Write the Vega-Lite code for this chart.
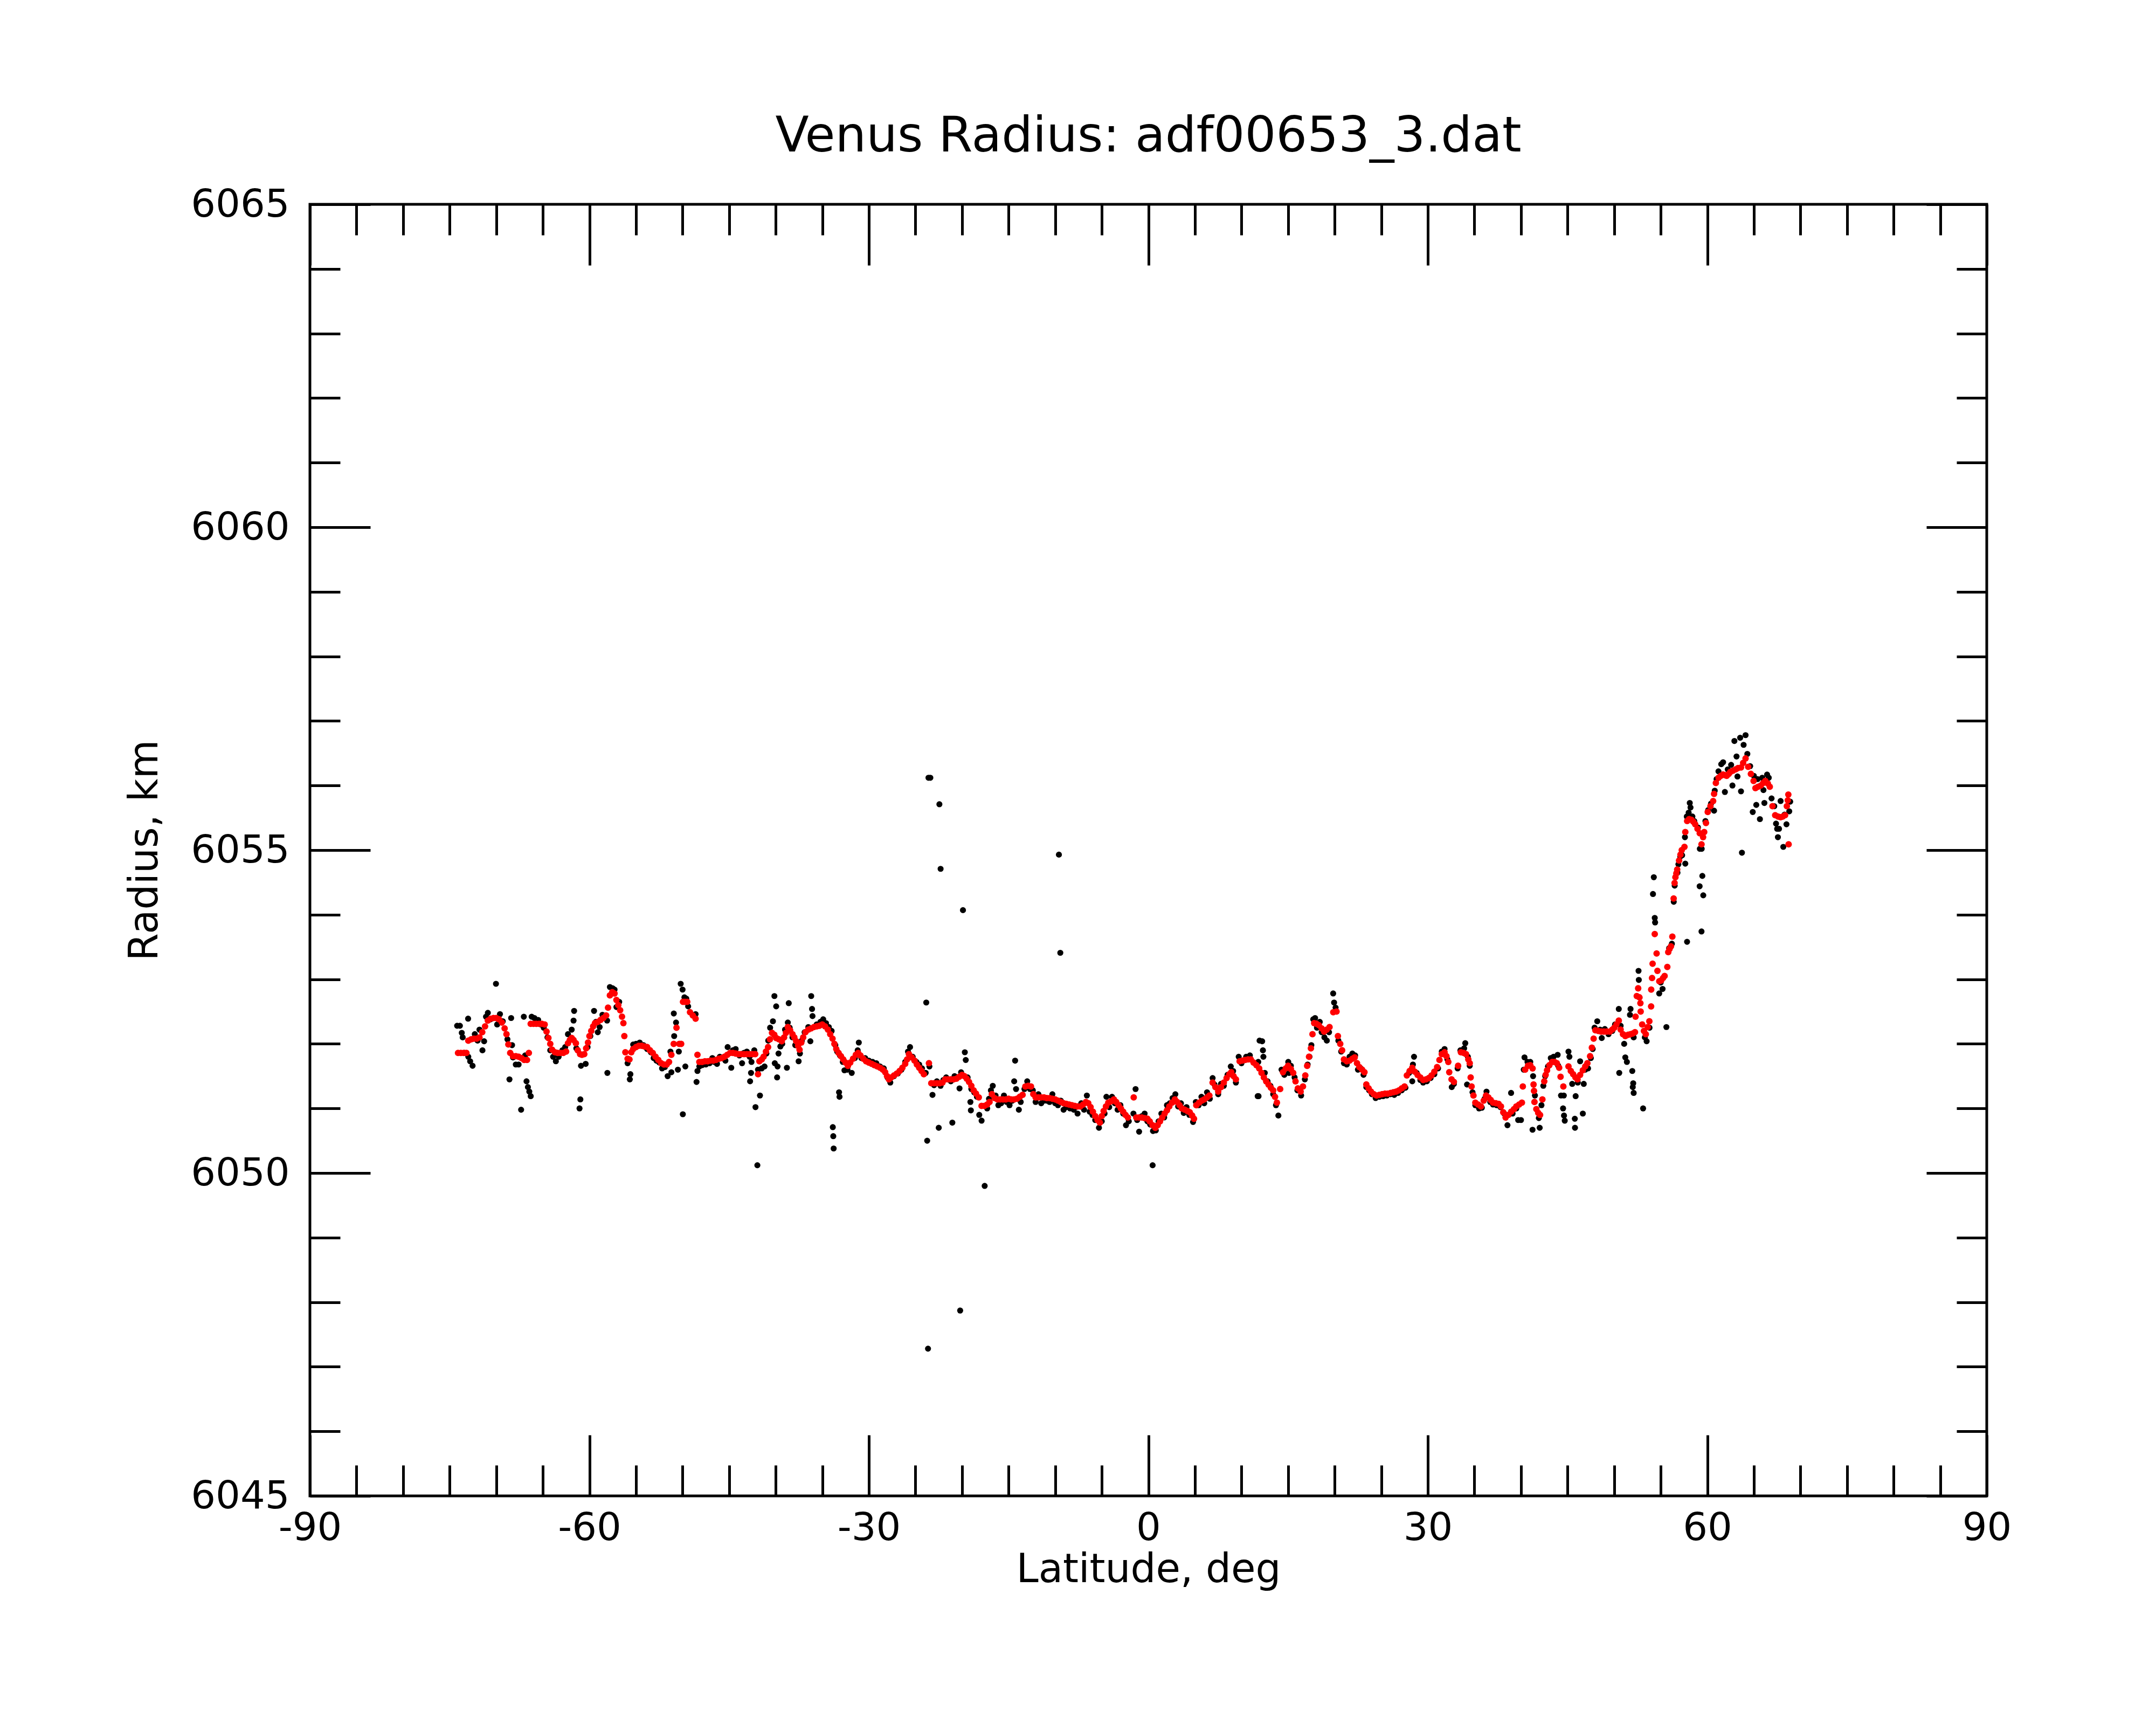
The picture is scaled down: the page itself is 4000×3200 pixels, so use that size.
{
  "$schema": "https://vega.github.io/schema/vega-lite/v6.json",
  "autosize": "none",
  "padding": {"left": 575, "top": 379, "right": 314, "bottom": 425},
  "width": 3111,
  "height": 2396,
  "background": "white",
  "title": {
    "text": "Venus Radius: adf00653_3.dat",
    "font": "DejaVu Sans",
    "fontSize": 91,
    "fontWeight": "normal",
    "color": "black",
    "baseline": "bottom",
    "anchor": "middle",
    "frame": "group",
    "offset": -48
  },
  "datasets": {
    "raw": [
      {"lat":-74.2,"r":6052.28},{"lat":-73.9,"r":6052.28},{"lat":-73.7,"r":6052.17},{"lat":-73.6,"r":6052.10},{"lat":-73.02,"r":6052.39},{"lat":-73.4,"r":6051.86},{"lat":-73.0,"r":6051.80},{"lat":-72.8,"r":6051.73},{"lat":-72.54,"r":6051.66},{"lat":-72.3,"r":6052.15},{"lat":-72.0,"r":6052.05},{"lat":-71.8,"r":6052.22},{"lat":-71.48,"r":6051.90},{"lat":-71.3,"r":6052.04},{"lat":-71.1,"r":6052.42},{"lat":-70.9,"r":6052.48},{"lat":-70.6,"r":6052.38},{"lat":-70.03,"r":6052.93},{"lat":-69.9,"r":6052.30},{"lat":-69.6,"r":6052.46},{"lat":-69.3,"r":6052.35},{"lat":-68.8,"r":6052.07},{"lat":-68.58,"r":6051.45},{"lat":-68.4,"r":6052.40},{"lat":-68.3,"r":6051.98},{"lat":-68.2,"r":6051.79},{"lat":-67.9,"r":6051.68},{"lat":-67.6,"r":6051.68},{"lat":-67.33,"r":6050.98},{"lat":-67.04,"r":6052.42},{"lat":-66.9,"r":6051.82},{"lat":-66.75,"r":6051.42},{"lat":-66.6,"r":6051.33},{"lat":-66.45,"r":6051.26},{"lat":-66.3,"r":6051.19},{"lat":-66.2,"r":6052.42},{"lat":-65.9,"r":6052.40},{"lat":-65.5,"r":6052.37},{"lat":-65.2,"r":6052.30},{"lat":-64.9,"r":6052.25},{"lat":-64.5,"r":6052.10},{"lat":-64.2,"r":6051.90},{"lat":-63.9,"r":6051.80},{"lat":-63.6,"r":6051.73},{"lat":-63.3,"r":6051.80},{"lat":-62.9,"r":6051.90},{"lat":-62.6,"r":6051.95},{"lat":-62.3,"r":6052.15},{"lat":-61.9,"r":6052.22},{"lat":-61.64,"r":6052.51},{"lat":-61.7,"r":6052.36},{"lat":-61.4,"r":6051.93},{"lat":-61.06,"r":6051.00},{"lat":-60.97,"r":6051.14},{"lat":-60.9,"r":6051.66},{"lat":-60.6,"r":6051.84},{"lat":-60.4,"r":6051.69},{"lat":-60.2,"r":6051.95},{"lat":-59.9,"r":6052.12},{"lat":-59.5,"r":6052.51},{"lat":-59.3,"r":6052.34},{"lat":-59.1,"r":6052.18},{"lat":-58.9,"r":6052.26},{"lat":-58.6,"r":6052.45},{"lat":-58.07,"r":6051.55},{"lat":-58.1,"r":6052.36},{"lat":-57.8,"r":6052.88},{"lat":-57.5,"r":6052.86},{"lat":-57.3,"r":6052.84},{"lat":-57.1,"r":6052.57},{"lat":-56.8,"r":6052.65},{"lat":-55.66,"r":6051.45},{"lat":-55.6,"r":6051.53},{"lat":-55.9,"r":6051.70},{"lat":-55.3,"r":6051.99},{"lat":-55.0,"r":6052.00},{"lat":-54.6,"r":6052.02},{"lat":-54.2,"r":6051.98},{"lat":-53.8,"r":6051.92},{"lat":-53.4,"r":6051.87},{"lat":-53.1,"r":6051.78},{"lat":-52.8,"r":6051.74},{"lat":-52.5,"r":6051.71},{"lat":-52.2,"r":6051.62},{"lat":-51.9,"r":6051.64},{"lat":-51.6,"r":6051.50},{"lat":-51.3,"r":6051.88},{"lat":-51.2,"r":6051.56},{"lat":-50.94,"r":6052.47},{"lat":-50.9,"r":6052.12},{"lat":-50.7,"r":6052.33},{"lat":-50.5,"r":6051.60},{"lat":-50.4,"r":6051.88},{"lat":-50.2,"r":6052.93},{"lat":-50.0,"r":6052.84},{"lat":-49.97,"r":6050.91},{"lat":-49.8,"r":6052.72},{"lat":-49.6,"r":6052.70},{"lat":-49.4,"r":6052.58},{"lat":-49.7,"r":6051.65},{"lat":-48.5,"r":6051.41},{"lat":-48.4,"r":6051.58},{"lat":-48.6,"r":6052.46},{"lat":-48.2,"r":6051.65},{"lat":-47.9,"r":6051.67},{"lat":-47.5,"r":6051.68},{"lat":-47.1,"r":6051.70},{"lat":-46.8,"r":6051.78},
      {"lat":-46.6,"r":6051.72},{"lat":-46.3,"r":6051.69},{"lat":-46.0,"r":6051.80},{"lat":-45.7,"r":6051.78},{"lat":-45.4,"r":6051.74},{"lat":-45.16,"r":6051.95},{"lat":-44.77,"r":6051.63},{"lat":-44.6,"r":6051.90},{"lat":-44.3,"r":6051.92},{"lat":-43.9,"r":6051.82},{"lat":-43.61,"r":6051.70},{"lat":-43.4,"r":6051.86},{"lat":-43.1,"r":6051.88},{"lat":-42.8,"r":6051.80},{"lat":-42.6,"r":6051.72},{"lat":-42.75,"r":6051.42},{"lat":-42.65,"r":6051.55},{"lat":-42.3,"r":6051.90},{"lat":-42.17,"r":6051.02},{"lat":-41.97,"r":6050.12},{"lat":-41.69,"r":6051.20},{"lat":-41.9,"r":6051.60},{"lat":-41.5,"r":6051.62},{"lat":-41.2,"r":6051.65},{"lat":-41.0,"r":6051.85},{"lat":-40.8,"r":6052.05},{"lat":-40.6,"r":6052.25},{"lat":-40.14,"r":6052.74},{"lat":-39.95,"r":6052.58},{"lat":-40.3,"r":6052.35},{"lat":-40.1,"r":6051.70},{"lat":-39.85,"r":6051.48},{"lat":-39.8,"r":6051.65},{"lat":-39.7,"r":6051.85},{"lat":-39.5,"r":6051.96},{"lat":-39.3,"r":6052.00},{"lat":-39.0,"r":6052.22},{"lat":-38.8,"r":6051.63},{"lat":-38.6,"r":6052.63},{"lat":-38.7,"r":6052.33},{"lat":-38.5,"r":6052.25},{"lat":-38.2,"r":6052.10},{"lat":-37.9,"r":6051.98},{"lat":-37.54,"r":6051.73},{"lat":-37.4,"r":6051.85},{"lat":-37.2,"r":6052.05},{"lat":-36.9,"r":6052.18},{"lat":-36.5,"r":6052.26},{"lat":-36.28,"r":6052.04},{"lat":-36.19,"r":6052.74},{"lat":-36.1,"r":6052.54},{"lat":-36.05,"r":6052.43},{"lat":-35.6,"r":6052.30},{"lat":-35.2,"r":6052.34},{"lat":-34.9,"r":6052.38},{"lat":-34.6,"r":6052.32},{"lat":-34.3,"r":6052.26},{"lat":-34.0,"r":6052.20},{"lat":-33.87,"r":6050.71},{"lat":-33.82,"r":6050.57},{"lat":-33.78,"r":6050.38},{"lat":-33.6,"r":6051.98},{"lat":-33.4,"r":6051.88},{"lat":-33.2,"r":6051.25},{"lat":-33.15,"r":6051.18},{"lat":-33.1,"r":6051.82},{"lat":-32.8,"r":6051.72},{"lat":-32.62,"r":6051.59},{"lat":-32.3,"r":6051.60},{"lat":-31.84,"r":6051.55},{"lat":-31.5,"r":6051.78},{"lat":-31.08,"r":6052.02},{"lat":-31.2,"r":6051.90},{"lat":-30.8,"r":6051.78},{"lat":-30.4,"r":6051.78},{"lat":-30.0,"r":6051.74},{"lat":-29.6,"r":6051.72},{"lat":-29.2,"r":6051.70},{"lat":-28.8,"r":6051.65},{"lat":-28.4,"r":6051.62},{"lat":-28.0,"r":6051.48},{"lat":-27.7,"r":6051.40},{"lat":-27.3,"r":6051.50},{"lat":-26.9,"r":6051.54},{"lat":-26.5,"r":6051.60},{"lat":-26.1,"r":6051.72},{"lat":-25.8,"r":6051.88},{"lat":-25.58,"r":6051.95},{"lat":-25.3,"r":6051.80},{"lat":-24.9,"r":6051.72},{"lat":-24.6,"r":6051.68},{"lat":-24.3,"r":6051.62},{"lat":-23.84,"r":6052.64},{"lat":-23.9,"r":6051.55},{"lat":-23.74,"r":6050.50},{"lat":-23.6,"r":6056.12},{"lat":-23.4,"r":6056.12},{"lat":-23.65,"r":6047.28},{"lat":-22.43,"r":6055.71},{"lat":-22.3,"r":6054.71},{"lat":-19.9,"r":6054.07},{"lat":-20.2,"r":6047.87},{"lat":-23.5,"r":6051.65},{"lat":-23.17,"r":6051.21},{"lat":-23.0,"r":6051.36},{"lat":-22.7,"r":6051.42},{"lat":-22.5,"r":6050.70},{"lat":-22.3,"r":6051.35},{"lat":-22.0,"r":6051.44},{"lat":-21.7,"r":6051.48},{"lat":-21.04,"r":6050.78},{"lat":-21.2,"r":6051.42},{"lat":-20.8,"r":6051.50},{"lat":-20.5,"r":6051.48},{"lat":-20.27,"r":6051.31},{"lat":-20.1,"r":6051.56},{"lat":-19.7,"r":6051.87},{"lat":-19.6,"r":6051.75},{"lat":-19.4,"r":6051.48},{"lat":-19.1,"r":6051.10},{"lat":-19.05,"r":6050.97},{"lat":-19.0,"r":6051.30},{"lat":-18.7,"r":6051.25},{"lat":-18.4,"r":6051.18},{"lat":-18.15,"r":6050.90},{"lat":-17.9,"r":6050.81},{"lat":-17.57,"r":6049.80},{"lat":-17.3,"r":6051.00},
      {"lat":-9.6,"r":6054.93},{"lat":-9.45,"r":6053.41},
      {"lat":-17.1,"r":6051.15},{"lat":-16.9,"r":6051.28},{"lat":-16.7,"r":6051.35},{"lat":-16.4,"r":6051.20},{"lat":-16.1,"r":6051.05},{"lat":-15.8,"r":6051.08},{"lat":-15.5,"r":6051.20},{"lat":-15.2,"r":6051.10},{"lat":-14.9,"r":6051.05},{"lat":-14.6,"r":6051.12},{"lat":-14.4,"r":6051.42},{"lat":-14.3,"r":6051.74},{"lat":-14.2,"r":6051.30},{"lat":-13.9,"r":6050.98},{"lat":-13.7,"r":6051.10},{"lat":-13.3,"r":6051.30},{"lat":-13.0,"r":6051.42},{"lat":-12.7,"r":6051.30},{"lat":-12.4,"r":6051.28},{"lat":-12.1,"r":6051.10},{"lat":-11.8,"r":6051.22},{"lat":-11.5,"r":6051.08},{"lat":-11.2,"r":6051.12},{"lat":-10.9,"r":6051.12},{"lat":-10.6,"r":6051.10},{"lat":-10.3,"r":6051.22},{"lat":-10.0,"r":6051.08},{"lat":-9.7,"r":6051.05},{"lat":-9.4,"r":6051.12},{"lat":-9.1,"r":6050.98},{"lat":-8.8,"r":6051.02},{"lat":-8.4,"r":6051.00},{"lat":-8.0,"r":6050.98},{"lat":-7.6,"r":6050.92},{"lat":-7.2,"r":6051.08},{"lat":-6.9,"r":6050.98},{"lat":-6.6,"r":6051.20},{"lat":-6.3,"r":6050.95},{"lat":-6.0,"r":6050.90},{"lat":-5.7,"r":6050.82},{"lat":-5.3,"r":6050.70},{"lat":-5.0,"r":6050.80},{"lat":-4.7,"r":6050.92},{"lat":-4.5,"r":6051.18},{"lat":-4.2,"r":6051.02},{"lat":-3.9,"r":6051.18},{"lat":-3.6,"r":6051.08},{"lat":-3.3,"r":6050.98},{"lat":-3.0,"r":6051.05},{"lat":-2.7,"r":6050.92},{"lat":-2.4,"r":6050.74},{"lat":-2.1,"r":6050.80},{"lat":-1.37,"r":6051.30},{"lat":-1.6,"r":6050.92},{"lat":-1.2,"r":6050.82},{"lat":-0.99,"r":6050.64},{"lat":-0.7,"r":6050.88},{"lat":-0.4,"r":6050.92},{"lat":-0.1,"r":6050.80},{"lat":0.2,"r":6050.75},{"lat":0.46,"r":6050.12},{"lat":0.5,"r":6050.65},{"lat":0.8,"r":6050.66},{"lat":1.1,"r":6050.80},{"lat":1.4,"r":6050.92},{"lat":1.7,"r":6050.86},{"lat":2.0,"r":6051.05},{"lat":2.3,"r":6051.08},{"lat":2.6,"r":6051.16},{"lat":2.9,"r":6051.22},{"lat":3.2,"r":6051.03},{"lat":3.5,"r":6051.08},{"lat":3.8,"r":6050.93},{"lat":4.1,"r":6051.02},{"lat":4.4,"r":6050.90},{"lat":4.8,"r":6050.79},{"lat":5.1,"r":6051.10},{"lat":5.4,"r":6051.05},{"lat":5.7,"r":6051.18},{"lat":6.0,"r":6051.08},{"lat":6.3,"r":6051.25},{"lat":6.6,"r":6051.15},{"lat":6.9,"r":6051.47},{"lat":7.1,"r":6051.37},{"lat":7.5,"r":6051.22},{"lat":7.8,"r":6051.38},{"lat":8.1,"r":6051.35},{"lat":8.5,"r":6051.52},{"lat":8.85,"r":6051.65},{"lat":9.1,"r":6051.58},{"lat":9.4,"r":6051.40},{"lat":9.7,"r":6051.80},{"lat":10.0,"r":6051.70},{"lat":10.5,"r":6051.80},{"lat":10.9,"r":6051.82},{"lat":11.74,"r":6051.19},{"lat":11.94,"r":6052.05},{"lat":11.8,"r":6051.72},
      {"lat":12.22,"r":6052.04},{"lat":12.3,"r":6051.90},{"lat":12.35,"r":6051.80},{"lat":11.83,"r":6051.19},{"lat":12.5,"r":6051.55},{"lat":12.8,"r":6051.42},{"lat":13.1,"r":6051.35},{"lat":13.4,"r":6051.22},{"lat":13.7,"r":6051.05},{"lat":13.96,"r":6050.89},{"lat":14.3,"r":6051.60},{"lat":14.6,"r":6051.52},{"lat":15.02,"r":6051.72},{"lat":15.1,"r":6051.55},{"lat":15.3,"r":6051.66},{"lat":15.7,"r":6051.48},{"lat":16.0,"r":6051.28},{"lat":16.4,"r":6051.20},{"lat":16.8,"r":6051.45},{"lat":17.1,"r":6051.68},{"lat":17.3,"r":6051.80},{"lat":17.5,"r":6051.98},{"lat":17.7,"r":6052.38},{"lat":17.9,"r":6052.40},{"lat":18.1,"r":6052.25},{"lat":18.4,"r":6052.34},{"lat":18.6,"r":6052.18},{"lat":18.9,"r":6052.10},{"lat":19.16,"r":6052.05},{"lat":19.4,"r":6052.18},{"lat":19.84,"r":6052.78},{"lat":19.94,"r":6052.64},{"lat":20.1,"r":6052.56},{"lat":20.4,"r":6052.05},{"lat":20.7,"r":6051.88},{"lat":21.0,"r":6051.70},{"lat":21.3,"r":6051.68},{"lat":21.6,"r":6051.80},{"lat":21.9,"r":6051.85},{"lat":22.2,"r":6051.82},{"lat":22.5,"r":6051.60},{"lat":22.8,"r":6051.62},{"lat":23.1,"r":6051.52},{"lat":23.4,"r":6051.33},{"lat":23.7,"r":6051.28},{"lat":24.0,"r":6051.22},{"lat":24.4,"r":6051.16},{"lat":24.8,"r":6051.18},{"lat":25.2,"r":6051.19},{"lat":25.6,"r":6051.20},{"lat":26.0,"r":6051.22},{"lat":26.4,"r":6051.21},{"lat":26.8,"r":6051.24},{"lat":27.2,"r":6051.28},{"lat":27.6,"r":6051.32},{"lat":28.0,"r":6051.55},{"lat":28.33,"r":6051.42},{"lat":28.52,"r":6051.80},{"lat":28.4,"r":6051.68},{"lat":28.8,"r":6051.55},{"lat":29.2,"r":6051.44},{"lat":29.5,"r":6051.40},{"lat":29.9,"r":6051.42},{"lat":30.3,"r":6051.47},{"lat":30.7,"r":6051.53},{"lat":31.1,"r":6051.62},{"lat":31.5,"r":6051.88},{"lat":31.8,"r":6051.92},{"lat":32.1,"r":6051.76},{"lat":32.57,"r":6051.33},{"lat":32.8,"r":6051.38},{"lat":33.2,"r":6051.62},{"lat":33.5,"r":6051.90},{"lat":34.02,"r":6052.01},{"lat":33.9,"r":6051.93},{"lat":34.21,"r":6051.37},{"lat":34.3,"r":6051.80},{"lat":34.5,"r":6051.66},{"lat":34.8,"r":6051.25},{"lat":35.1,"r":6051.05},{"lat":35.5,"r":6051.00},{"lat":35.8,"r":6051.01},{"lat":36.1,"r":6051.15},{"lat":36.3,"r":6051.26},{"lat":36.7,"r":6051.10},{"lat":37.0,"r":6051.06},{"lat":37.4,"r":6051.05},{"lat":37.8,"r":6051.02},{"lat":38.2,"r":6050.92},{"lat":38.55,"r":6050.74},{"lat":38.94,"r":6051.24},{"lat":39.1,"r":6050.92},{"lat":39.5,"r":6051.00},{"lat":39.7,"r":6050.82},{"lat":40.0,"r":6050.82},{"lat":40.38,"r":6051.79},{"lat":40.3,"r":6051.60},{"lat":40.7,"r":6051.72},{"lat":41.0,"r":6051.72},
      {"lat":41.24,"r":6050.67},{"lat":41.3,"r":6051.50},{"lat":41.5,"r":6051.20},{"lat":41.92,"r":6050.85},{"lat":42.01,"r":6050.70},{"lat":42.2,"r":6051.05},{"lat":42.4,"r":6051.35},{"lat":42.6,"r":6051.50},{"lat":42.9,"r":6051.65},{"lat":43.2,"r":6051.78},{"lat":43.5,"r":6051.80},{"lat":43.94,"r":6051.83},{"lat":44.0,"r":6051.66},{"lat":44.3,"r":6051.20},{"lat":44.52,"r":6051.00},{"lat":44.62,"r":6050.89},{"lat":44.7,"r":6050.81},{"lat":44.6,"r":6051.20},{"lat":45.1,"r":6051.88},{"lat":45.2,"r":6051.80},{"lat":45.5,"r":6051.38},{"lat":45.78,"r":6050.84},{"lat":45.8,"r":6050.70},{"lat":45.87,"r":6051.19},{"lat":46.1,"r":6051.40},{"lat":46.35,"r":6051.73},{"lat":46.64,"r":6050.92},{"lat":46.74,"r":6051.38},{"lat":46.9,"r":6051.60},{"lat":47.2,"r":6051.62},{"lat":47.5,"r":6051.78},{"lat":47.7,"r":6051.92},{"lat":47.9,"r":6052.25},{"lat":48.19,"r":6052.35},{"lat":48.67,"r":6052.09},{"lat":48.5,"r":6052.22},{"lat":49.0,"r":6052.23},{"lat":49.4,"r":6052.15},{"lat":49.8,"r":6052.20},{"lat":50.1,"r":6052.30},{"lat":50.5,"r":6052.54},{"lat":50.55,"r":6051.55},{"lat":50.7,"r":6052.28},{"lat":51.08,"r":6052.00},{"lat":51.2,"r":6051.79},{"lat":51.37,"r":6051.72},{"lat":51.76,"r":6052.54},{"lat":51.7,"r":6052.45},{"lat":51.95,"r":6051.58},{"lat":52.05,"r":6051.39},{"lat":52.0,"r":6051.33},{"lat":52.1,"r":6051.24},{"lat":52.1,"r":6052.10},{"lat":52.62,"r":6053.13},{"lat":52.65,"r":6052.99},{"lat":53.11,"r":6051.00},{"lat":53.49,"r":6052.04},{"lat":53.3,"r":6052.10},{"lat":53.8,"r":6052.25},{"lat":54.17,"r":6054.32},{"lat":54.26,"r":6054.58},{"lat":54.36,"r":6053.95},{"lat":54.4,"r":6053.88},{"lat":54.84,"r":6052.78},{"lat":55.2,"r":6052.85},{"lat":55.0,"r":6052.95},{"lat":55.61,"r":6052.26},{"lat":55.9,"r":6053.48},{"lat":56.2,"r":6053.55},{"lat":56.4,"r":6054.20},{"lat":56.5,"r":6054.45},{"lat":56.8,"r":6054.65},{"lat":56.9,"r":6054.78},{"lat":57.1,"r":6054.90},{"lat":57.3,"r":6054.92},{"lat":57.64,"r":6054.79},{"lat":57.83,"r":6053.58},{"lat":57.6,"r":6055.20},{"lat":57.8,"r":6055.52},{"lat":58.0,"r":6055.58},{"lat":58.12,"r":6055.73},{"lat":58.2,"r":6055.66},{"lat":58.4,"r":6055.52},{"lat":58.6,"r":6055.45},{"lat":59.0,"r":6055.35},{"lat":59.2,"r":6055.02},{"lat":59.4,"r":6055.02},{"lat":59.18,"r":6054.44},{"lat":59.47,"r":6054.60},{"lat":59.57,"r":6054.30},{"lat":59.38,"r":6053.74},{"lat":59.8,"r":6055.45},{"lat":60.1,"r":6055.62},{"lat":60.4,"r":6055.72},{"lat":60.73,"r":6055.61},{"lat":60.8,"r":6055.92},{"lat":61.0,"r":6056.10},{"lat":61.2,"r":6056.22},{"lat":61.5,"r":6056.33},{"lat":61.7,"r":6056.36},{"lat":61.89,"r":6055.90},{"lat":62.2,"r":6056.25},{"lat":62.56,"r":6056.32},{"lat":62.7,"r":6056.00},{"lat":62.91,"r":6056.69},{"lat":63.14,"r":6056.45},{"lat":63.24,"r":6056.14},{"lat":63.53,"r":6056.74},{"lat":63.62,"r":6055.91},{"lat":63.72,"r":6054.96},{"lat":63.9,"r":6056.63},{"lat":64.11,"r":6056.78},{"lat":64.3,"r":6056.49},{"lat":64.6,"r":6056.30},{"lat":64.88,"r":6055.59},{"lat":65.0,"r":6056.15},{"lat":65.26,"r":6055.70},{"lat":65.4,"r":6056.10},{"lat":65.65,"r":6055.48},{"lat":65.9,"r":6056.12},{"lat":66.03,"r":6055.93},{"lat":66.13,"r":6055.73},{"lat":66.42,"r":6056.17},{"lat":66.6,"r":6056.12},{"lat":66.9,"r":6055.80},{"lat":67.19,"r":6055.68},{"lat":67.38,"r":6055.41},{"lat":67.5,"r":6055.33},{"lat":67.58,"r":6055.20},{"lat":67.7,"r":6055.33},{"lat":67.87,"r":6055.76},{"lat":68.16,"r":6055.05},{"lat":68.3,"r":6055.55},{"lat":68.5,"r":6055.40},{"lat":68.8,"r":6055.60},{"lat":68.9,"r":6055.75}
    ],
    "smooth": [
      {"lat":-74.1,"r":6051.86},{"lat":-73.8,"r":6051.86},{"lat":-73.5,"r":6051.86},{"lat":-73.2,"r":6051.86},{"lat":-73.0,"r":6052.05},{"lat":-72.7,"r":6052.07},{"lat":-72.4,"r":6052.08},{"lat":-72.1,"r":6052.08},{"lat":-71.8,"r":6052.10},{"lat":-71.5,"r":6052.18},{"lat":-71.2,"r":6052.27},{"lat":-70.9,"r":6052.36},{"lat":-70.6,"r":6052.39},{"lat":-70.3,"r":6052.40},{"lat":-70.0,"r":6052.40},{"lat":-69.7,"r":6052.38},{"lat":-69.4,"r":6052.33},{"lat":-69.1,"r":6052.24},{"lat":-68.9,"r":6052.15},{"lat":-68.7,"r":6051.99},{"lat":-68.5,"r":6051.86},{"lat":-68.2,"r":6051.81},{"lat":-67.9,"r":6051.81},{"lat":-67.6,"r":6051.80},{"lat":-67.3,"r":6051.78},{"lat":-67.0,"r":6051.75},{"lat":-66.7,"r":6051.75},{"lat":-66.5,"r":6051.86},
      {"lat":-66.3,"r":6052.31},{"lat":-66.0,"r":6052.31},{"lat":-65.7,"r":6052.31},{"lat":-65.4,"r":6052.31},{"lat":-65.1,"r":6052.31},{"lat":-64.8,"r":6052.30},{"lat":-64.6,"r":6052.19},{"lat":-64.4,"r":6052.09},{"lat":-64.2,"r":6052.00},{"lat":-64.0,"r":6051.91},{"lat":-63.7,"r":6051.87},{"lat":-63.4,"r":6051.86},{"lat":-63.1,"r":6051.86},{"lat":-62.8,"r":6051.86},{"lat":-62.5,"r":6051.88},{"lat":-62.3,"r":6052.01},{"lat":-62.1,"r":6052.06},{"lat":-61.9,"r":6052.09},{"lat":-61.7,"r":6052.06},{"lat":-61.45,"r":6052.01},{"lat":-61.25,"r":6051.90},{"lat":-61.0,"r":6051.84},{"lat":-60.8,"r":6051.83},{"lat":-60.55,"r":6051.84},{"lat":-60.35,"r":6051.93},{"lat":-60.15,"r":6052.02},{"lat":-60.0,"r":6052.12},{"lat":-59.8,"r":6052.20},{"lat":-59.6,"r":6052.27},{"lat":-59.4,"r":6052.32},{"lat":-59.1,"r":6052.34},{"lat":-58.8,"r":6052.37},{"lat":-58.5,"r":6052.40},{"lat":-58.2,"r":6052.44},{"lat":-58.0,"r":6052.56},{"lat":-57.8,"r":6052.75},{"lat":-57.55,"r":6052.80},{"lat":-57.3,"r":6052.78},{"lat":-57.1,"r":6052.68},{"lat":-56.9,"r":6052.60},{"lat":-56.7,"r":6052.52},{"lat":-56.5,"r":6052.42},{"lat":-56.35,"r":6052.32},{"lat":-56.25,"r":6052.12},{"lat":-56.14,"r":6051.87},{"lat":-55.9,"r":6051.77},{"lat":-55.7,"r":6051.76},{"lat":-55.5,"r":6051.87},{"lat":-55.3,"r":6051.92},{"lat":-55.0,"r":6051.95},{"lat":-54.7,"r":6051.97},{"lat":-54.4,"r":6051.97},{"lat":-54.1,"r":6051.96},{"lat":-53.8,"r":6051.95},{"lat":-53.5,"r":6051.90},{"lat":-53.2,"r":6051.86},{"lat":-52.9,"r":6051.80},{"lat":-52.6,"r":6051.75},{"lat":-52.3,"r":6051.70},{"lat":-52.0,"r":6051.68},{"lat":-51.7,"r":6051.68},{"lat":-51.45,"r":6051.72},{"lat":-51.2,"r":6051.83},{"lat":-50.95,"r":6052.00},{"lat":-50.65,"r":6052.25},{"lat":-50.35,"r":6052.00},{"lat":-50.15,"r":6052.00},{"lat":-49.95,"r":6052.65},{"lat":-49.75,"r":6052.65},{"lat":-49.5,"r":6052.65},{"lat":-49.2,"r":6052.49},{"lat":-48.9,"r":6052.44},{"lat":-48.6,"r":6052.39},{"lat":-48.4,"r":6051.83},{"lat":-48.2,"r":6051.72},{"lat":-47.9,"r":6051.72},{"lat":-47.6,"r":6051.73},{"lat":-47.3,"r":6051.73},{"lat":-47.0,"r":6051.74},{"lat":-46.7,"r":6051.74},{"lat":-46.4,"r":6051.75},{"lat":-46.1,"r":6051.77},{"lat":-45.8,"r":6051.78},{"lat":-45.5,"r":6051.80},{"lat":-45.2,"r":6051.83},{"lat":-44.9,"r":6051.86},{"lat":-44.6,"r":6051.86},{"lat":-44.3,"r":6051.85},{"lat":-44.0,"r":6051.84},{"lat":-43.7,"r":6051.84},{"lat":-43.4,"r":6051.84},{"lat":-43.1,"r":6051.84},{"lat":-42.8,"r":6051.84},{"lat":-42.5,"r":6051.84},{"lat":-42.2,"r":6051.84},{"lat":-41.9,"r":6051.53},{"lat":-41.75,"r":6051.73},{"lat":-41.5,"r":6051.76},{"lat":-41.3,"r":6051.80},{"lat":-41.05,"r":6051.88},{"lat":-40.82,"r":6051.95},{"lat":-40.62,"r":6052.07},{"lat":-40.4,"r":6052.17},{"lat":-40.15,"r":6052.14},{"lat":-39.95,"r":6052.09},{"lat":-39.65,"r":6052.07},{"lat":-39.35,"r":6052.04},{"lat":-39.1,"r":6052.10},{"lat":-38.9,"r":6052.17},{"lat":-38.7,"r":6052.26},{"lat":-38.45,"r":6052.21},{"lat":-38.2,"r":6052.15},{"lat":-38.0,"r":6052.10},{"lat":-37.8,"r":6052.04},{"lat":-37.6,"r":6051.97},{"lat":-37.44,"r":6051.91},{"lat":-37.25,"r":6052.02},{"lat":-37.05,"r":6052.10},{"lat":-36.8,"r":6052.18},{"lat":-36.5,"r":6052.22},{"lat":-36.2,"r":6052.24},{"lat":-35.9,"r":6052.26},{"lat":-35.6,"r":6052.27},{"lat":-35.3,"r":6052.28},{"lat":-35.0,"r":6052.30},{"lat":-34.7,"r":6052.27},{"lat":-34.4,"r":6052.22},{"lat":-34.15,"r":6052.15},{"lat":-33.9,"r":6052.08},{"lat":-33.7,"r":6052.00},{"lat":-33.5,"r":6051.92},{"lat":-33.25,"r":6051.86},{"lat":-33.0,"r":6051.81},{"lat":-32.75,"r":6051.76},{"lat":-32.5,"r":6051.71},{"lat":-32.25,"r":6051.66},{"lat":-32.0,"r":6051.71},{"lat":-31.7,"r":6051.77},{"lat":-31.4,"r":6051.83},{"lat":-31.15,"r":6051.86},{"lat":-30.9,"r":6051.82},{"lat":-30.6,"r":6051.77},{"lat":-30.3,"r":6051.73},{"lat":-30.0,"r":6051.71},{"lat":-29.7,"r":6051.69},{"lat":-29.4,"r":6051.67},{"lat":-29.1,"r":6051.65},{"lat":-28.8,"r":6051.63},{"lat":-28.5,"r":6051.60},{"lat":-28.25,"r":6051.56},{"lat":-28.05,"r":6051.50},{"lat":-27.85,"r":6051.45},{"lat":-27.6,"r":6051.48},{"lat":-27.3,"r":6051.51},{"lat":-27.0,"r":6051.54},{"lat":-26.7,"r":6051.58},{"lat":-26.4,"r":6051.63},{"lat":-26.1,"r":6051.69},{"lat":-25.9,"r":6051.76},{"lat":-25.7,"r":6051.84},{"lat":-25.4,"r":6051.79},{"lat":-25.1,"r":6051.74},{"lat":-24.85,"r":6051.68},{"lat":-24.6,"r":6051.63},{"lat":-24.35,"r":6051.58},{"lat":-24.1,"r":6051.53},{"lat":-23.55,"r":6051.70},{"lat":-23.3,"r":6051.39},{"lat":-23.0,"r":6051.39},{"lat":-22.7,"r":6051.39},{"lat":-22.4,"r":6051.39},{"lat":-22.1,"r":6051.40},{"lat":-21.8,"r":6051.45},{"lat":-21.5,"r":6051.45},{"lat":-21.2,"r":6051.45},{"lat":-20.9,"r":6051.45},{"lat":-20.6,"r":6051.46},{"lat":-20.3,"r":6051.49},{"lat":-20.0,"r":6051.52},{"lat":-19.75,"r":6051.50},{"lat":-19.5,"r":6051.46},{"lat":-19.25,"r":6051.41},{"lat":-19.0,"r":6051.35},{"lat":-18.75,"r":6051.28},{"lat":-18.5,"r":6051.23},{"lat":-18.2,"r":6051.17},{"lat":-17.9,"r":6051.04},{"lat":-17.6,"r":6051.04},{"lat":-17.3,"r":6051.06},{"lat":-17.05,"r":6051.10},{"lat":-16.8,"r":6051.22},{"lat":-16.5,"r":6051.16},{"lat":-16.2,"r":6051.14},{"lat":-15.9,"r":6051.14},{"lat":-15.6,"r":6051.14},{"lat":-15.3,"r":6051.14},{"lat":-15.0,"r":6051.15},{"lat":-14.7,"r":6051.14},{"lat":-14.4,"r":6051.14},{"lat":-14.1,"r":6051.15},{"lat":-13.8,"r":6051.18},{"lat":-13.5,"r":6051.21},{"lat":-13.2,"r":6051.34},{"lat":-12.9,"r":6051.35},{"lat":-12.6,"r":6051.34},{"lat":-12.35,"r":6051.22},{"lat":-12.1,"r":6051.17},{"lat":-11.8,"r":6051.17},{"lat":-11.5,"r":6051.17},{"lat":-11.2,"r":6051.17},{"lat":-10.9,"r":6051.16},{"lat":-10.6,"r":6051.16},{"lat":-10.3,"r":6051.15},{"lat":-10.0,"r":6051.14},{"lat":-9.7,"r":6051.12},{"lat":-9.4,"r":6051.10},{"lat":-9.1,"r":6051.08},{"lat":-8.8,"r":6051.07},{"lat":-8.5,"r":6051.06},{"lat":-8.2,"r":6051.05},{"lat":-7.9,"r":6051.04},{"lat":-7.6,"r":6051.03},{"lat":-7.3,"r":6051.03},{"lat":-7.0,"r":6051.06},{"lat":-6.7,"r":6051.10},{"lat":-6.45,"r":6051.08},{"lat":-6.2,"r":6051.02},{"lat":-5.95,"r":6050.95},{"lat":-5.7,"r":6050.88},{"lat":-5.45,"r":6050.82},{"lat":-5.2,"r":6050.78},{"lat":-5.0,"r":6050.88},{"lat":-4.8,"r":6050.96},{"lat":-4.55,"r":6051.03},{"lat":-4.3,"r":6051.09},{"lat":-4.0,"r":6051.11},{"lat":-3.7,"r":6051.14},{"lat":-3.45,"r":6051.10},{"lat":-3.2,"r":6051.05},{"lat":-2.95,"r":6051.00},{"lat":-2.7,"r":6050.95},{"lat":-2.45,"r":6050.90},{"lat":-2.2,"r":6050.86},{"lat":-1.57,"r":6051.17},{"lat":-1.3,"r":6050.86},{"lat":-1.0,"r":6050.86},{"lat":-0.7,"r":6050.86},{"lat":-0.4,"r":6050.85},{"lat":-0.1,"r":6050.84},{"lat":0.15,"r":6050.80},{"lat":0.45,"r":6050.74},{"lat":0.75,"r":6050.70},{"lat":1.0,"r":6050.74},{"lat":1.25,"r":6050.80},{"lat":1.5,"r":6050.86},{"lat":1.75,"r":6050.92},{"lat":2.0,"r":6050.97},{"lat":2.25,"r":6051.03},{"lat":2.55,"r":6051.09},{"lat":2.85,"r":6051.14},{"lat":3.1,"r":6051.10},{"lat":3.35,"r":6051.05},{"lat":3.6,"r":6051.00},{"lat":3.9,"r":6050.98},{"lat":4.2,"r":6050.96},{"lat":4.45,"r":6050.94},{"lat":4.7,"r":6050.89},{"lat":4.9,"r":6050.84},{"lat":5.15,"r":6051.05},{"lat":5.45,"r":6051.09},{"lat":5.75,"r":6051.12},{"lat":6.0,"r":6051.14},{"lat":6.3,"r":6051.17},{"lat":6.55,"r":6051.20},{"lat":6.9,"r":6051.40},{"lat":7.2,"r":6051.33},{"lat":7.5,"r":6051.26},{"lat":7.8,"r":6051.33},{"lat":8.1,"r":6051.40},{"lat":8.4,"r":6051.47},{"lat":8.7,"r":6051.53},{"lat":8.9,"r":6051.56},{"lat":9.15,"r":6051.50},{"lat":9.4,"r":6051.45},{"lat":9.8,"r":6051.73},{"lat":10.1,"r":6051.74},{"lat":10.4,"r":6051.75},{"lat":10.7,"r":6051.76},{"lat":11.0,"r":6051.76},{"lat":11.3,"r":6051.71},{"lat":11.6,"r":6051.67},{"lat":11.9,"r":6051.62},{"lat":12.15,"r":6051.55},{"lat":12.4,"r":6051.48},{"lat":12.65,"r":6051.42},{"lat":12.9,"r":6051.37},{"lat":13.15,"r":6051.32},{"lat":13.4,"r":6051.28},{"lat":13.6,"r":6051.18},{"lat":13.8,"r":6051.09},{"lat":14.15,"r":6051.30},{"lat":14.45,"r":6051.56},{"lat":14.75,"r":6051.62},{"lat":15.0,"r":6051.66},{"lat":15.3,"r":6051.61},{"lat":15.55,"r":6051.55},{"lat":15.8,"r":6051.42},{"lat":16.05,"r":6051.31},{"lat":16.35,"r":6051.26},{"lat":16.6,"r":6051.34},{"lat":16.85,"r":6051.51},{"lat":17.05,"r":6051.66},{"lat":17.25,"r":6051.80},{"lat":17.45,"r":6051.93},{"lat":17.62,"r":6052.15},{"lat":17.8,"r":6052.32},{"lat":18.05,"r":6052.31},{"lat":18.3,"r":6052.29},{"lat":18.6,"r":6052.24},{"lat":18.87,"r":6052.19},{"lat":19.15,"r":6052.22},{"lat":19.45,"r":6052.26},{"lat":19.85,"r":6052.49},{"lat":20.2,"r":6052.50},{"lat":20.35,"r":6052.12},{"lat":20.6,"r":6052.00},{"lat":20.8,"r":6051.90},{"lat":21.0,"r":6051.76},{"lat":21.3,"r":6051.73},{"lat":21.6,"r":6051.74},{"lat":21.9,"r":6051.77},{"lat":22.15,"r":6051.79},{"lat":22.4,"r":6051.70},{"lat":22.65,"r":6051.64},{"lat":22.95,"r":6051.60},{"lat":23.2,"r":6051.56},{"lat":23.4,"r":6051.37},{"lat":23.65,"r":6051.31},{"lat":23.9,"r":6051.26},{"lat":24.2,"r":6051.22},{"lat":24.5,"r":6051.20},{"lat":24.8,"r":6051.21},{"lat":25.1,"r":6051.22},{"lat":25.4,"r":6051.23},{"lat":25.7,"r":6051.23},{"lat":26.0,"r":6051.24},{"lat":26.3,"r":6051.25},{"lat":26.6,"r":6051.26},{"lat":26.9,"r":6051.28},{"lat":27.2,"r":6051.31},{"lat":27.5,"r":6051.34},{"lat":27.75,"r":6051.51},{"lat":28.05,"r":6051.58},{"lat":28.33,"r":6051.63},{"lat":28.6,"r":6051.57},{"lat":28.9,"r":6051.52},{"lat":29.2,"r":6051.48},{"lat":29.5,"r":6051.44},{"lat":29.8,"r":6051.45},{"lat":30.1,"r":6051.47},{"lat":30.4,"r":6051.51},{"lat":30.7,"r":6051.57},{"lat":31.0,"r":6051.64},{"lat":31.25,"r":6051.75},{"lat":31.5,"r":6051.84},{"lat":31.8,"r":6051.87},{"lat":32.0,"r":6051.81},{"lat":32.2,"r":6051.72},{"lat":32.3,"r":6051.56},{"lat":32.55,"r":6051.45},{"lat":32.8,"r":6051.41},{"lat":33.25,"r":6051.66},{"lat":33.55,"r":6051.87},{"lat":33.85,"r":6051.86},{"lat":34.1,"r":6051.84},{"lat":34.35,"r":6051.76},{"lat":34.5,"r":6051.70},{"lat":34.6,"r":6051.48},{"lat":34.7,"r":6051.34},{"lat":34.9,"r":6051.20},{"lat":35.1,"r":6051.09},{"lat":35.4,"r":6051.06},{"lat":35.7,"r":6051.03},{"lat":36.0,"r":6051.12},{"lat":36.25,"r":6051.20},{"lat":36.5,"r":6051.17},{"lat":36.75,"r":6051.13},{"lat":37.0,"r":6051.09},{"lat":37.3,"r":6051.08},{"lat":37.6,"r":6051.07},{"lat":37.85,"r":6051.03},{"lat":38.1,"r":6050.94},{"lat":38.35,"r":6050.86},{"lat":38.65,"r":6050.90},{"lat":38.95,"r":6050.95},{"lat":39.25,"r":6050.99},{"lat":39.5,"r":6051.03},{"lat":39.8,"r":6051.06},{"lat":40.1,"r":6051.09},{"lat":40.2,"r":6051.34},{"lat":40.45,"r":6051.60},{"lat":40.75,"r":6051.66},{"lat":41.0,"r":6051.67},{"lat":41.25,"r":6051.62},{"lat":41.35,"r":6051.37},{"lat":41.4,"r":6051.27},{"lat":41.45,"r":6051.10},{"lat":41.65,"r":6050.99},{"lat":41.85,"r":6050.93},{"lat":42.05,"r":6050.90},{"lat":42.3,"r":6051.14},{"lat":42.5,"r":6051.42},{"lat":42.65,"r":6051.52},{"lat":42.8,"r":6051.59},{"lat":43.05,"r":6051.67},{"lat":43.35,"r":6051.72},{"lat":43.6,"r":6051.72},{"lat":43.85,"r":6051.70},{"lat":44.1,"r":6051.63},{"lat":44.25,"r":6051.49},{"lat":44.55,"r":6051.34},{"lat":45.1,"r":6051.65},{"lat":45.35,"r":6051.58},{"lat":45.6,"r":6051.53},{"lat":45.85,"r":6051.48},{"lat":46.07,"r":6051.45},{"lat":46.35,"r":6051.52},{"lat":46.64,"r":6051.59},{"lat":46.9,"r":6051.65},{"lat":47.13,"r":6051.70},{"lat":47.42,"r":6051.81},{"lat":47.61,"r":6051.94},{"lat":47.8,"r":6052.08},{"lat":47.99,"r":6052.21},{"lat":48.3,"r":6052.20},{"lat":48.6,"r":6052.19},{"lat":48.9,"r":6052.19},{"lat":49.2,"r":6052.19},{"lat":49.54,"r":6052.19},{"lat":49.8,"r":6052.22},{"lat":50.02,"r":6052.25},{"lat":50.25,"r":6052.30},{"lat":50.5,"r":6052.36},{"lat":50.7,"r":6052.22},{"lat":50.95,"r":6052.15},{"lat":51.2,"r":6052.12},{"lat":51.5,"r":6052.14},{"lat":51.76,"r":6052.15},{"lat":52.0,"r":6052.16},{"lat":52.24,"r":6052.18},{"lat":52.3,"r":6052.42},{"lat":52.43,"r":6052.74},{"lat":52.58,"r":6052.86},{"lat":52.72,"r":6052.72},{"lat":52.82,"r":6052.63},{"lat":52.85,"r":6052.50},{"lat":53.01,"r":6052.30},{"lat":53.2,"r":6052.20},{"lat":53.4,"r":6052.15},{"lat":53.6,"r":6052.26},{"lat":53.78,"r":6052.35},{"lat":53.97,"r":6052.58},{"lat":53.98,"r":6052.84},{"lat":54.07,"r":6053.02},{"lat":54.13,"r":6053.24},{"lat":54.36,"r":6053.70},{"lat":54.56,"r":6053.40},{"lat":54.65,"r":6053.13},{"lat":54.85,"r":6052.97},{"lat":55.05,"r":6052.98},{"lat":55.25,"r":6053.02},{"lat":55.42,"r":6053.05},{"lat":55.71,"r":6053.19},{"lat":55.81,"r":6053.42},{"lat":55.95,"r":6053.47},{"lat":56.1,"r":6053.51},{"lat":56.25,"r":6053.66},{"lat":56.39,"r":6054.25},{"lat":56.49,"r":6054.49},{"lat":56.58,"r":6054.58},{"lat":56.68,"r":6054.64},{"lat":56.77,"r":6054.70},{"lat":56.97,"r":6054.84},{"lat":57.12,"r":6054.93},{"lat":57.26,"r":6055.00},{"lat":57.55,"r":6055.05},{"lat":57.64,"r":6055.28},{"lat":57.84,"r":6055.45},{"lat":58.05,"r":6055.48},{"lat":58.3,"r":6055.47},{"lat":58.5,"r":6055.44},{"lat":58.7,"r":6055.40},{"lat":58.95,"r":6055.33},{"lat":59.19,"r":6055.26},{"lat":59.38,"r":6055.09},{"lat":59.55,"r":6055.20},{"lat":59.67,"r":6055.28},{"lat":59.86,"r":6055.42},{"lat":60.05,"r":6055.59},{"lat":60.34,"r":6055.68},{"lat":60.63,"r":6055.76},{"lat":60.73,"r":6055.87},{"lat":60.92,"r":6056.04},{"lat":61.21,"r":6056.12},{"lat":61.45,"r":6056.15},{"lat":61.69,"r":6056.17},{"lat":61.9,"r":6056.16},{"lat":62.08,"r":6056.15},{"lat":62.3,"r":6056.18},{"lat":62.47,"r":6056.21},{"lat":62.75,"r":6056.23},{"lat":63.04,"r":6056.25},{"lat":63.3,"r":6056.27},{"lat":63.62,"r":6056.28},{"lat":63.85,"r":6056.35},{"lat":64.11,"r":6056.42},{"lat":64.39,"r":6056.29},{"lat":64.68,"r":6056.18},{"lat":64.97,"r":6056.07},{"lat":65.17,"r":6055.96},{"lat":65.45,"r":6055.98},{"lat":65.74,"r":6056.00},{"lat":66.0,"r":6056.04},{"lat":66.23,"r":6056.07},{"lat":66.5,"r":6056.03},{"lat":66.71,"r":6055.98},{"lat":67.0,"r":6055.68},{"lat":67.29,"r":6055.54},{"lat":67.6,"r":6055.52},{"lat":67.87,"r":6055.51},{"lat":68.1,"r":6055.52},{"lat":68.35,"r":6055.54},{"lat":68.54,"r":6055.68},{"lat":68.64,"r":6055.77},{"lat":68.7,"r":6055.86},{"lat":68.73,"r":6055.09}
    ]
  },
  "layer": [
    {
      "data": {"name": "raw"},
      "mark": {"type": "circle", "size": 125, "color": "black", "opacity": 1},
      "encoding": {
        "x": {
          "field": "lat",
          "type": "quantitative",
          "scale": {"domain": [-90, 90], "nice": false, "zero": false},
          "axis": {
            "orient": "bottom",
            "values": [-90,-85,-80,-75,-70,-65,-60,-55,-50,-45,-40,-35,-30,-25,-20,-15,-10,-5,0,5,10,15,20,25,30,35,40,45,50,55,60,65,70,75,80,85,90],
            "tickSize": {"condition": {"test": "datum.value % 30 === 0", "value": -113}, "value": -57},
            "labelExpr": "datum.value % 30 === 0 ? '' + datum.value : ''",
            "labelPadding": 137,
            "title": "Latitude, deg",
            "titlePadding": -50
          }
        },
        "y": {
          "field": "r",
          "type": "quantitative",
          "scale": {"domain": [6045, 6065], "nice": false, "zero": false},
          "axis": {
            "orient": "left",
            "values": [6045,6046,6047,6048,6049,6050,6051,6052,6053,6054,6055,6056,6057,6058,6059,6060,6061,6062,6063,6064,6065],
            "tickSize": {"condition": {"test": "datum.value % 5 === 0", "value": -112}, "value": -56},
            "labelExpr": "datum.value % 5 === 0 ? '' + datum.value : ''",
            "labelPadding": 150,
            "labelLimit": 0,
            "title": "Radius, km",
            "titlePadding": 68
          }
        }
      }
    },
    {
      "data": {"name": "smooth"},
      "mark": {"type": "circle", "size": 145, "color": "#ff0000", "opacity": 1},
      "encoding": {
        "x": {
          "field": "lat",
          "type": "quantitative",
          "scale": {"domain": [-90, 90], "nice": false, "zero": false},
          "axis": {
            "orient": "top",
            "values": [-90,-85,-80,-75,-70,-65,-60,-55,-50,-45,-40,-35,-30,-25,-20,-15,-10,-5,0,5,10,15,20,25,30,35,40,45,50,55,60,65,70,75,80,85,90],
            "tickSize": {"condition": {"test": "datum.value % 30 === 0", "value": -113}, "value": -57},
            "labels": false,
            "title": null
          }
        },
        "y": {
          "field": "r",
          "type": "quantitative",
          "scale": {"domain": [6045, 6065], "nice": false, "zero": false},
          "axis": {
            "orient": "right",
            "values": [6045,6046,6047,6048,6049,6050,6051,6052,6053,6054,6055,6056,6057,6058,6059,6060,6061,6062,6063,6064,6065],
            "tickSize": {"condition": {"test": "datum.value % 5 === 0", "value": -112}, "value": -56},
            "labels": false,
            "title": null
          }
        }
      }
    }
  ],
  "resolve": {"axis": {"x": "independent", "y": "independent"}},
  "config": {
    "font": "DejaVu Sans",
    "view": {"stroke": "black", "strokeWidth": 5},
    "axis": {
      "domain": false,
      "grid": false,
      "tickColor": "black",
      "tickWidth": 5,
      "labelFont": "DejaVu Sans",
      "labelFontSize": 72,
      "labelColor": "black",
      "labelFlush": false,
      "labelOverlap": false,
      "labelBound": false,
      "labelLimit": 0,
      "titleFont": "DejaVu Sans",
      "titleFontSize": 74,
      "titleFontWeight": "normal",
      "titleColor": "black"
    }
  }
}
